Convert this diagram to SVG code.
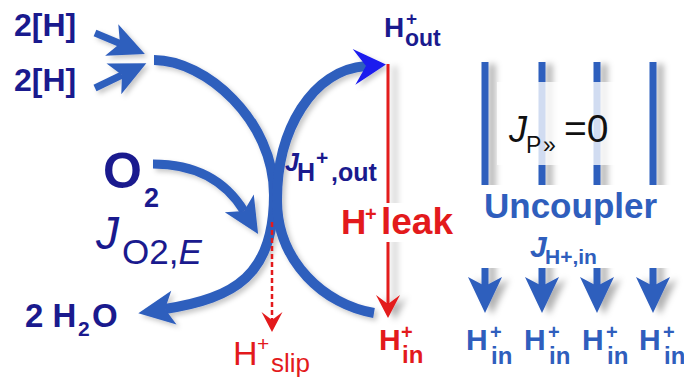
<svg xmlns="http://www.w3.org/2000/svg" width="684" height="382" viewBox="0 0 684 382">
<style>
.navy{fill:#1a1a8e;font-family:"Liberation Sans",Arial,sans-serif;font-weight:bold}
.navyr{fill:#1a1a8e;font-family:"Liberation Sans",Arial,sans-serif}
.red{fill:#e31a1c;font-family:"Liberation Sans",Arial,sans-serif;font-weight:bold}
.redr{fill:#e31a1c;font-family:"Liberation Sans",Arial,sans-serif}
.blu{fill:#2f5ebd;font-family:"Liberation Sans",Arial,sans-serif;font-weight:bold}
.blk{fill:#111;font-family:"Liberation Sans",Arial,sans-serif}
.it{font-style:italic}
.arc{fill:none;stroke:#2f5ebd;stroke-width:10}
.bar{fill:none;stroke:#2f5ebd;stroke-width:7}
</style>
<defs>
<filter id="sh" x="-50%" y="-10%" width="200%" height="120%">
<feDropShadow dx="7" dy="2" stdDeviation="3" flood-color="#000" flood-opacity="0.3"/>
</filter>
<filter id="sh2" x="-20%" y="-20%" width="140%" height="140%">
<feDropShadow dx="3" dy="3" stdDeviation="2.5" flood-color="#000" flood-opacity="0.22"/>
</filter>
<marker id="hb" markerUnits="userSpaceOnUse" viewBox="0 0 40 40" markerWidth="40" markerHeight="40" refX="9" refY="20" orient="auto" overflow="visible">
<path d="M0,3 L36,20 L0,37 L9,20 Z" fill="#2f5ebd"/>
</marker>
<marker id="hbright" markerUnits="userSpaceOnUse" viewBox="0 0 40 40" markerWidth="40" markerHeight="40" refX="12" refY="20" orient="auto" overflow="visible">
<path d="M0,2 L32,20 L0,38 L12,20 Z" fill="#1a1aee"/>
</marker>
<marker id="hr" markerUnits="userSpaceOnUse" viewBox="0 0 40 40" markerWidth="40" markerHeight="40" refX="9" refY="20" orient="auto" overflow="visible">
<path d="M0,8 L23,20 L0,32 L9,20 Z" fill="#e31a1c"/>
</marker>
<marker id="hrd" markerUnits="userSpaceOnUse" viewBox="0 0 40 40" markerWidth="40" markerHeight="40" refX="8" refY="20" orient="auto" overflow="visible">
<path d="M0,9.5 L20,20 L0,30.5 L8,20 Z" fill="#e31a1c"/>
</marker>
</defs>
<rect width="684" height="382" fill="#fff"/>
<g id="connectors">
<g filter="url(#sh2)">
<path d="M95,33 L120,43.5" stroke="#2f5ebd" stroke-width="7" fill="none" marker-end="url(#hb)"/>
<path d="M95,88 L122,75" stroke="#2f5ebd" stroke-width="7" fill="none" marker-end="url(#hb)"/>
<path class="arc" d="M154,60 C205,60 274,120 274,195 C274,275 235,298 165,309" marker-end="url(#hb)"/>
<path d="M153,164 C195,164 225,180 244,211" fill="none" stroke="#2f5ebd" stroke-width="9" marker-end="url(#hb)"/>
<path class="arc" d="M374,313 C325,305 277,262 277,200 C277,130 312,70 366,66" marker-end="url(#hbright)"/>
</g>
<path d="M272,222 L272,320" stroke="#e31a1c" stroke-width="2.5" stroke-dasharray="5,3" fill="none" marker-end="url(#hrd)"/>
<g filter="url(#sh)">
<path d="M388,64 L388,304" stroke="#e31a1c" stroke-width="3" fill="none" marker-end="url(#hr)"/>
<path class="bar" d="M485,62 L485,286" marker-end="url(#hb)"/>
<path class="bar" d="M542,62 L542,286" marker-end="url(#hb)"/>
<path class="bar" d="M597,62 L597,286" marker-end="url(#hb)"/>
<path class="bar" d="M653,62 L653,286" marker-end="url(#hb)"/>
</g>
</g>
<g id="n-2H-1"><text class="navy" x="14" y="36" font-size="32">2[H]</text></g>
<g id="n-2H-2"><text class="navy" x="14" y="91" font-size="32">2[H]</text></g>
<g id="n-O2"><text class="navy" x="103" y="188" font-size="50">O</text><text class="navy" x="144" y="207" font-size="27">2</text></g>
<g id="n-JO2E"><text class="navyr it" x="96" y="249" font-size="46">J</text><text class="navyr" x="122" y="264" font-size="35">O2,<tspan class="it">E</tspan></text></g>
<g id="n-H2O"><text class="navy" x="25" y="327" font-size="33">2 H</text><text class="navy" x="78" y="336" font-size="21">2</text><text class="navy" x="92" y="327" font-size="33">O</text></g>
<g id="n-Hout"><text class="navy" x="384" y="37" font-size="28">H</text><text class="navy" x="406" y="25" font-size="19">+</text><text class="navy" x="405" y="46" font-size="23">out</text></g>
<g id="n-JHout"><text class="navy it" x="285" y="171" font-size="25">J</text><text class="navy" x="297" y="181" font-size="25">H</text><text class="navy" x="316" y="165" font-size="21">+</text><text class="navy" x="331" y="181" font-size="25">,out</text></g>
<g id="n-Hleak"><rect x="336" y="203" width="126" height="39" fill="#fff"/><text class="red" x="341" y="234" font-size="35">H</text><text class="red" x="365" y="221" font-size="20">+</text><text class="red" x="381" y="234" font-size="37">leak</text></g>
<g id="n-Hin-leak"><text class="red" x="379" y="350" font-size="30">H</text><text class="red" x="401" y="339" font-size="20">+</text><text class="red" x="402" y="363" font-size="24">in</text></g>
<g id="n-Hslip"><text class="redr" x="233" y="365" font-size="34">H</text><text class="redr" x="257" y="351" font-size="21">+</text><text class="redr" x="271" y="372" font-size="26">slip</text></g>
<g id="n-JP"><rect x="497" y="82" width="126" height="83" fill="#fff" fill-opacity="0.78"/><text class="blk it" x="509" y="142" font-size="36">J</text><text class="blk" x="526" y="153" font-size="23">P</text><text class="blk" x="543" y="153" font-size="23">»</text><text class="blk" x="564" y="142" font-size="39">=0</text></g>
<g id="n-uncoupler"><rect x="479" y="185" width="194" height="83" fill="#fff"/><text class="blu" x="484" y="218" font-size="35">Uncoupler</text><text class="blu it" x="530" y="257" font-size="30">J</text><text class="blu" x="545" y="264" font-size="21">H+,in</text></g>
<g id="n-Hin-1"><text class="blu" x="466" y="350" font-size="30">H</text><text class="blu" x="490" y="339" font-size="20">+</text><text class="blu" x="491" y="364" font-size="24">in</text></g>
<g id="n-Hin-2"><text class="blu" x="524" y="350" font-size="30">H</text><text class="blu" x="548" y="339" font-size="20">+</text><text class="blu" x="549" y="364" font-size="24">in</text></g>
<g id="n-Hin-3"><text class="blu" x="582" y="350" font-size="30">H</text><text class="blu" x="606" y="339" font-size="20">+</text><text class="blu" x="607" y="364" font-size="24">in</text></g>
<g id="n-Hin-4"><text class="blu" x="639" y="350" font-size="30">H</text><text class="blu" x="663" y="339" font-size="20">+</text><text class="blu" x="664" y="364" font-size="24">in</text></g>
</svg>
